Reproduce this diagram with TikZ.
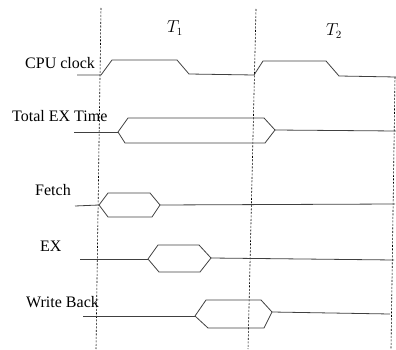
\documentclass[tikz,border=0pt]{standalone}
\usepackage{fontspec}
\setmainfont{Liberation Serif}
\begin{document}
\begin{tikzpicture}[x=1pt,y=-1pt,
  wave/.style={draw=black!75, line width=0.8pt, line join=miter},
  guide/.style={draw=black, line width=0.6pt, dash pattern=on 2pt off 1.5pt},
  lbl/.style={font=\fontsize{16}{19}\selectfont, inner sep=0pt},
  tlbl/.style={font=\fontsize{16}{18}\selectfont, inner sep=0pt}]
\useasboundingbox (0,0) rectangle (396,350);
% guide lines
\coordinate (g1a) at (101,8);   \coordinate (g1b) at (96,349);
\coordinate (g2a) at (256,9);   \coordinate (g2b) at (248,349);
\coordinate (g3a) at (395,77);  \coordinate (g3b) at (391,349);
\draw[guide] (g1a) -- (g1b);
\draw[guide] (g2a) -- (g2b);
\draw[guide] (g3a) -- (g3b);
% period labels
\node[tlbl] (t1) at (175,28) {$T_1$};
\node[tlbl] (t2) at (334,31) {$T_2$};
% signal labels
\node[lbl, anchor=base west] (cpu) at (25,69) {CPU clock};
\node[lbl, anchor=base west] (tot) at (12,122) {Total EX Time};
\node[lbl, anchor=base west] (fet) at (35,195) {Fetch};
\node[lbl, anchor=base west] (ex) at (40,251) {EX};
\node[lbl, anchor=base west] (wb) at (26,307) {Write Back};
% CPU clock
\draw[wave] (77,75) -- (101,75) -- (112,60) -- (177,60) -- (189,74) -- (254,75)
  -- (263,61) -- (326,61) -- (339,76) -- (396,77);
% Total EX Time
\draw[wave] (74,132) -- (118,132);
\draw[wave] (118,132) -- (128,118) -- (264,118) -- (275,130) -- (265,143) -- (125,143) -- cycle;
\draw[wave] (275,130) -- (396,131);
% Fetch
\draw[wave] (75,206) -- (99,205);
\draw[wave] (99,205) -- (108,193) -- (150,193) -- (160,205) -- (152,217) -- (108,217) -- cycle;
\draw[wave] (160,205) -- (395,204);
% EX
\draw[wave] (80,259) -- (148,259);
\draw[wave] (148,259) -- (158,245) -- (199,245) -- (211,258) -- (200,272) -- (159,272) -- cycle;
\draw[wave] (211,258) -- (394,260);
% Write Back
\draw[wave] (83,316) -- (195,316);
\draw[wave] (195,316) -- (206,300) -- (261,300) -- (272,312) -- (264,328) -- (208,328) -- cycle;
\draw[wave] (272,312) -- (390,314);
\end{tikzpicture}
\end{document}
